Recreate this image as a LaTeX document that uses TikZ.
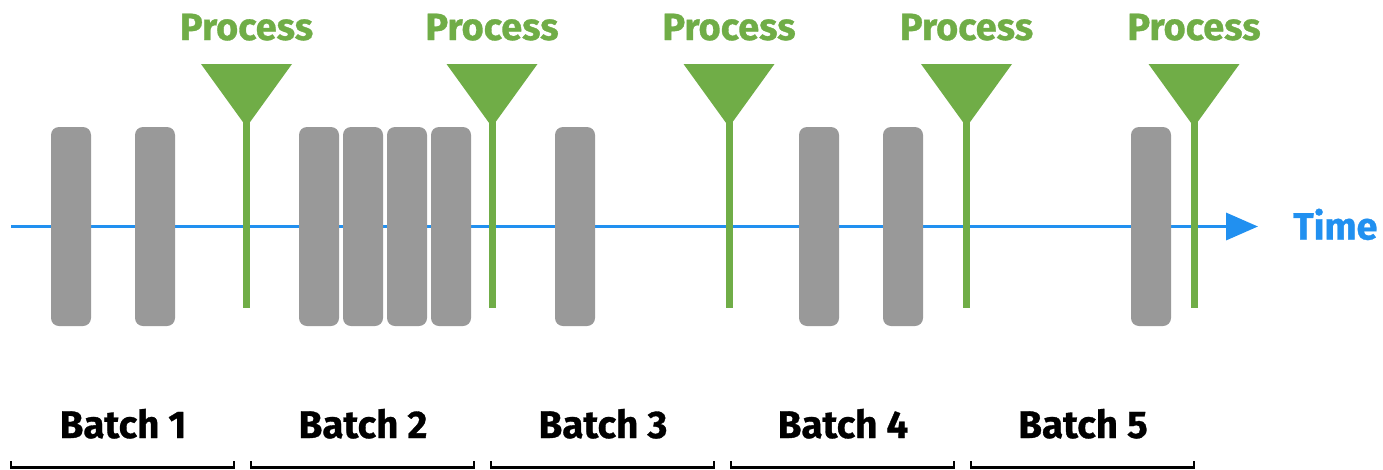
\documentclass[tikz,border=0pt]{standalone}
\usepackage{fontspec}
\setmainfont{Fira Sans}[BoldFeatures={FakeBold=0.8}]
\usetikzlibrary{arrows.meta}
\definecolor{pgreen}{RGB}{112,173,71}
\definecolor{pgray}{RGB}{153,153,153}
\definecolor{pblue}{RGB}{33,144,240}
\begin{document}
\begin{tikzpicture}[x=1pt,y=-1pt,
  bar/.style={fill=pgray,rounded corners=8pt,minimum width=40pt,minimum height=199pt,inner sep=0pt,draw=none},
  proclabel/.style={text=pgreen,font=\bfseries\fontsize{38}{42}\selectfont,inner sep=0pt,anchor=base},
  batchlabel/.style={text=black,font=\bfseries\fontsize{38.5}{42}\selectfont,inner sep=0pt,anchor=base},
  procline/.style={draw=pgreen,line width=7pt},
  funnel/.style={fill=pgreen},
  bracket/.style={draw=black,line width=2.8pt},
  timeline/.style={draw=pblue,line width=3.5pt,-{Triangle[length=32pt,width=27pt]}}
]
\useasboundingbox (0,0) rectangle (1383,469);
% time axis
\coordinate (tstart) at (11,226.5);
\coordinate (tend) at (1258,226.5);
\draw[timeline] (tstart) -- (tend);
\node[text=pblue,font=\bfseries\fontsize{38}{42}\selectfont,inner sep=0pt,anchor=base west] (time) at (1293,239.5) {Time};
% bars
\foreach \n/\x in {a/71,b/155,c/319,d/363,e/407,f/451,g/575,h/819,i/903,j/1151}{
  \node[bar] (bar\n) at (\x,226.5) {};
}
% process markers
\foreach \n/\x in {1/246.5,2/492,3/729,4/966.5,5/1194}{
  \coordinate (ptop\n) at (\x,120);
  \coordinate (pbot\n) at (\x,308);
  \draw[procline] (ptop\n) -- (pbot\n);
  \fill[funnel] (\x-45.5,64) -- (\x+45.5,64) -- (\x,127) -- cycle;
  \node[proclabel] (proc\n) at (\x,40) {Process};
}
% batch labels and brackets
\foreach \n/\l in {1/11,2/251,3/491,4/731,5/971}{
  \node[batchlabel] (batch\n) at (\l+112,438) {Batch \n};
  \coordinate (bl\n) at (\l,461);
  \coordinate (br\n) at (\l+223,461);
  \draw[bracket] (bl\n) -- ++(0,6.5) -| (br\n);
}
\end{tikzpicture}
\end{document}
